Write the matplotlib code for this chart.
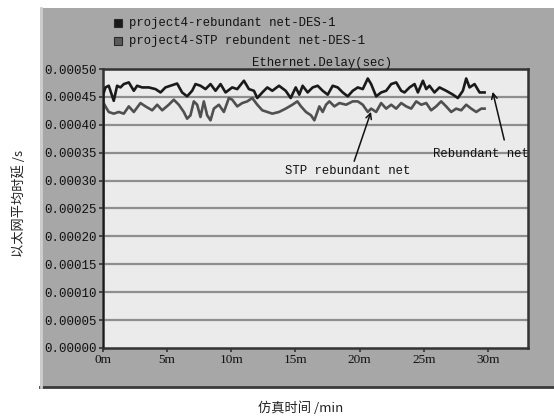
import numpy as np
import matplotlib
matplotlib.use('Agg')
import matplotlib.pyplot as plt
from matplotlib.patches import Rectangle

# simulation time (min) and Ethernet delay (sec)
t_red = [0.0, 0.05, 0.21, 0.47, 0.86, 1.12, 1.38, 1.64, 2.03, 2.42, 2.68, 3.07, 3.59, 4.11,
         4.50, 4.88, 5.27, 5.79, 6.18, 6.57, 6.96, 7.22, 7.61, 8.00, 8.39, 8.78, 9.17,
         9.56, 10.08, 10.47, 10.99, 11.38, 11.77, 12.03, 12.42, 12.81, 13.20, 13.72,
         14.24, 14.63, 15.02, 15.30, 15.56, 15.95, 16.34, 16.73, 17.12, 17.51, 17.90,
         18.29, 18.68, 19.07, 19.46, 19.85, 20.24, 20.63, 20.89, 21.28, 21.67, 22.06,
         22.45, 22.84, 23.23, 23.49, 23.88, 24.27, 24.53, 24.92, 25.18, 25.43, 25.82,
         26.21, 26.73, 27.26, 27.64, 28.03, 28.29, 28.55, 28.94, 29.33, 29.72]
delay_red = [0.0, 0.000455, 0.000467, 0.000470, 0.000443, 0.000470, 0.000467, 0.000473,
             0.000476, 0.000461, 0.000470, 0.000467, 0.000467, 0.000464, 0.000458,
             0.000467, 0.000470, 0.000474, 0.000458, 0.000451, 0.000461, 0.000473,
             0.000470, 0.000464, 0.000473, 0.000461, 0.000473, 0.000458, 0.000467,
             0.000464, 0.000479, 0.000464, 0.000461, 0.000448, 0.000458, 0.000467,
             0.000461, 0.000470, 0.000461, 0.000448, 0.000467, 0.000454, 0.000470,
             0.000458, 0.000467, 0.000470, 0.000461, 0.000454, 0.000470, 0.000467,
             0.000458, 0.000451, 0.000461, 0.000467, 0.000464, 0.000483, 0.000473,
             0.000451, 0.000458, 0.000461, 0.000473, 0.000476, 0.000461, 0.000458,
             0.000467, 0.000473, 0.000458, 0.000479, 0.000464, 0.000470, 0.000458,
             0.000467, 0.000461, 0.000454, 0.000448, 0.000461, 0.000483, 0.000467,
             0.000473, 0.000458, 0.000458]

t_stp = [0.0, 0.05, 0.21, 0.47, 0.86, 1.25, 1.64, 2.03, 2.42, 2.94, 3.33, 3.85, 4.24, 4.63,
         5.14, 5.53, 5.92, 6.31, 6.57, 6.83, 7.09, 7.35, 7.61, 7.87, 8.13, 8.39, 8.65,
         9.04, 9.43, 9.82, 10.08, 10.47, 10.86, 11.25, 11.64, 12.03, 12.42, 12.81, 13.20,
         13.72, 14.24, 14.76, 15.15, 15.43, 15.82, 16.21, 16.47, 16.86, 17.12, 17.38,
         17.64, 18.03, 18.42, 18.94, 19.46, 19.85, 20.24, 20.63, 20.89, 21.28, 21.67,
         22.06, 22.45, 22.84, 23.23, 23.62, 24.01, 24.40, 24.79, 25.18, 25.56, 25.95,
         26.34, 26.73, 27.12, 27.51, 27.90, 28.29, 28.68, 29.07, 29.46, 29.72]
delay_stp = [0.0, 0.000440, 0.000433, 0.000423, 0.000420, 0.000423, 0.000420, 0.000433,
             0.000423, 0.000439, 0.000433, 0.000426, 0.000436, 0.000426, 0.000436,
             0.000445, 0.000436, 0.000423, 0.000411, 0.000417, 0.000442, 0.000436,
             0.000414, 0.000442, 0.000417, 0.000408, 0.000429, 0.000436, 0.000423,
             0.000448, 0.000445, 0.000433, 0.000439, 0.000442, 0.000448, 0.000436,
             0.000426, 0.000423, 0.000420, 0.000423, 0.000429, 0.000436, 0.000442,
             0.000433, 0.000423, 0.000417, 0.000408, 0.000433, 0.000423, 0.000436,
             0.000442, 0.000433, 0.000439, 0.000436, 0.000442, 0.000442, 0.000436,
             0.000423, 0.000429, 0.000423, 0.000439, 0.000429, 0.000436, 0.000429,
             0.000439, 0.000433, 0.000429, 0.000442, 0.000436, 0.000439, 0.000426,
             0.000433, 0.000442, 0.000433, 0.000423, 0.000429, 0.000426, 0.000436,
             0.000429, 0.000423, 0.000429, 0.000429]

y_ticks = [0.0, 0.00005, 0.0001, 0.00015, 0.0002, 0.00025, 0.0003, 0.00035, 0.0004, 0.00045, 0.0005]
x_ticks = [0, 5, 10, 15, 20, 25, 30]
x_labels = ['0m', '5m', '10m', '15m', '20m', '25m', '30m']
legend_names = ['project4-rebundant net-DES-1', 'project4-STP rebundent net-DES-1']

mono = 'Liberation Mono'
serif = 'Liberation Serif'
cjk = ['Noto Sans CJK SC', 'DejaVu Sans']

fig = plt.figure(figsize=(5.54, 4.17), dpi=100)
fig.patch.set_facecolor('white')

# grey panel behind the plot, with a darker bottom edge
panel = Rectangle((0.072, 0.072), 0.94, 0.909, transform=fig.transFigure,
                  facecolor='#a7a7a7', edgecolor='none', zorder=-2)
fig.patches.append(panel)
fig.add_artist(plt.Line2D([0.072, 1.0], [0.072, 0.072], transform=fig.transFigure,
                          color='#3a3a3a', lw=2, zorder=-1))
fig.add_artist(plt.Line2D([0.074, 0.074], [0.072, 0.981], transform=fig.transFigure,
                          color='#cfcfcf', lw=2, zorder=-1))

ax = fig.add_axes([0.1854, 0.1655, 0.7677, 0.669])
ax.set_zorder(1)
ax.set_facecolor('#ebebeb')
ax.set_xlim(0, 33.1)
ax.set_ylim(0, 0.0005)
for v in y_ticks[1:-1]:
    ax.axhline(v, color='#8e8e8e', lw=1.6, zorder=1)

ax.plot(t_stp, delay_stp, color='#505050', lw=1.9, zorder=3)
ax.plot(t_red, delay_red, color='#1a1a1a', lw=1.9, zorder=4)

ax.set_yticks(y_ticks)
ax.set_yticklabels(['%.5f' % v for v in y_ticks], fontfamily=mono, fontsize=9, color='#111111')
ax.set_xticks(x_ticks)
ax.set_xticklabels(x_labels, fontfamily=serif, fontsize=9.5, color='#111111')
ax.tick_params(axis='both', direction='out', length=3, width=1.2, color='#333333', pad=1)
for s in ax.spines.values():
    s.set_color('#333333')
    s.set_linewidth(1.8)

# annotations
ax.annotate('', xy=(30.3, 0.000464), xytext=(31.3, 0.000368),
            arrowprops=dict(arrowstyle='->', color='#111111', lw=1.1))
ax.text(29.4, 0.000347, 'Rebundant net', fontfamily=mono, fontsize=8.8,
        ha='center', va='center', color='#111111')
ax.annotate('', xy=(20.95, 0.000428), xytext=(19.5, 0.000330),
            arrowprops=dict(arrowstyle='->', color='#111111', lw=1.1))
ax.text(19.1, 0.000317, 'STP rebundant net', fontfamily=mono, fontsize=8.8,
        ha='center', va='center', color='#111111')

# legend and title drawn in the panel
colors = ['#1a1a1a', '#5a5a5a']
for i, (name, c) in enumerate(zip(legend_names, colors)):
    yy = 1 - (23 + 18 * i) / 417
    fig.patches.append(Rectangle((114 / 554, yy - 4 / 417), 8 / 554, 8 / 417,
                                 transform=fig.transFigure, facecolor=c,
                                 edgecolor='#2a2a2a', lw=0.8, zorder=2))
    fig.text(129 / 554, yy, name, fontfamily=mono, fontsize=8.8,
             va='center', ha='left', color='#111111')
fig.text(322 / 554, 1 - 63 / 417, 'Ethernet.Delay(sec)', fontfamily=mono,
         fontsize=8.8, ha='center', va='center', color='#111111')

fig.text(0.034, 0.513, '以太网平均时延 /s', family=cjk, fontsize=9.5,
         rotation=90, ha='center', va='center', color='#222222')
fig.text(0.542, 0.022, '仿真时间 /min', family=cjk, fontsize=9.5,
         ha='center', va='center', color='#222222')

fig.savefig('out.png', dpi=100)
